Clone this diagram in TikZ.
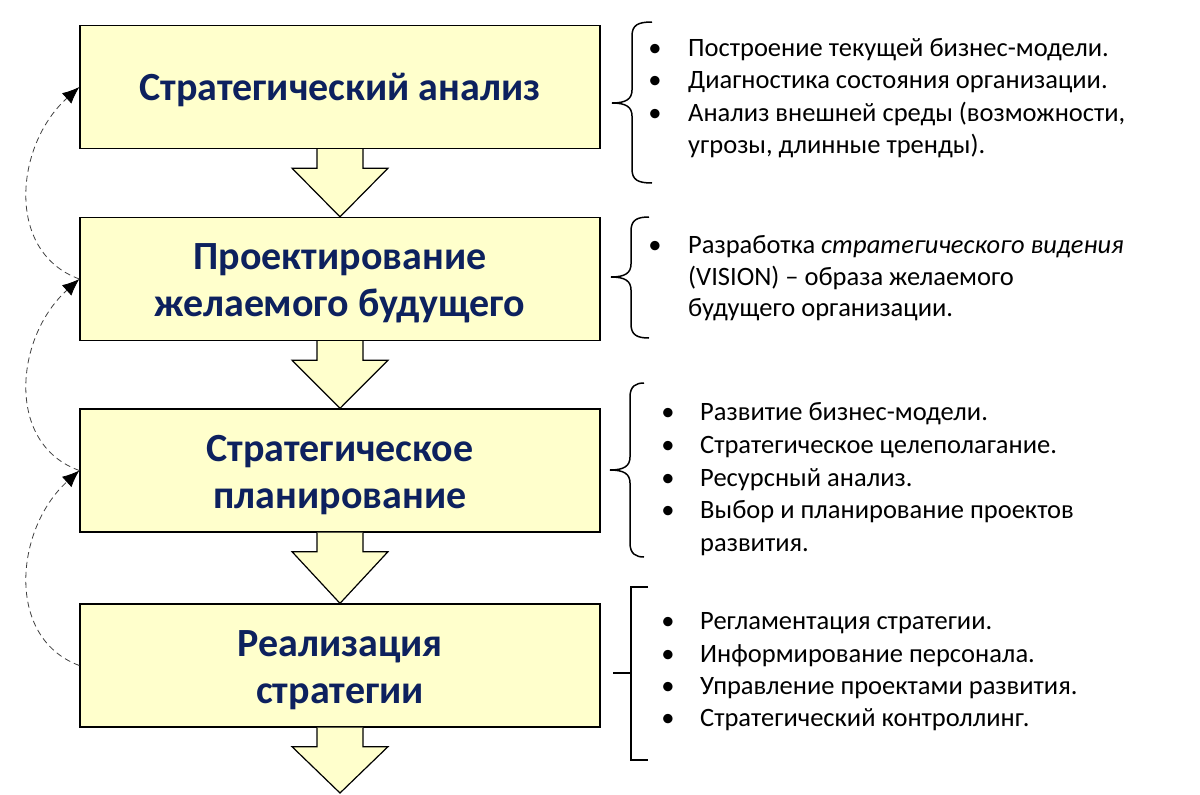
\documentclass[tikz,border=0pt]{standalone}
\usepackage{fontspec}
\setmainfont{Carlito}
\usetikzlibrary{arrows.meta,calc}
\definecolor{boxfill}{HTML}{FFFFCC}
\definecolor{titlecol}{HTML}{0D215E}
\newcommand\mybrace[5]{% x, top, tip y, bottom, hook x
  \draw[bracestyle] (#5,#2) .. controls ($(#1,#2)+(6,0)$) and ($(#1,#2)+(0,3)$) .. ($(#1,#2)+(0,14)$)
    -- ($(#1,#3)+(0,-13)$) .. controls ($(#1,#3)+(0,-4)$) and ($(#1,#3)+(-6,0)$) .. ($(#1,#3)+(-20,0)$)
    .. controls ($(#1,#3)+(-6,0)$) and ($(#1,#3)+(0,4)$) .. ($(#1,#3)+(0,13)$)
    -- ($(#1,#4)+(0,-14)$) .. controls ($(#1,#4)+(0,-3)$) and ($(#1,#4)+(6,0)$) .. (#5,#4);}
\begin{document}
\begin{tikzpicture}[x=1pt,y=-1pt,
  stage/.style={draw=black, line width=1.3pt, fill=boxfill, minimum width=520pt,
    minimum height=123pt, inner sep=0pt},
  title/.style={inner sep=0pt, align=center, text=titlecol,
    font=\fontsize{40}{47}\selectfont\bfseries},
  item/.style={anchor=base west, inner sep=0pt, font=\fontsize{26.5}{30}\selectfont},
  bul/.style={anchor=base, inner sep=0pt, font=\fontsize{26.5}{30}\selectfont},
  loopline/.style={draw=black!75, line width=0.8pt, dash pattern=on 6pt off 4pt,
    -{Latex[length=17pt,width=14pt,black]}},
  arrowedge/.style={draw=black, line width=1.2pt, line join=miter},
  bracestyle/.style={draw=black, line width=1.5pt}]
\useasboundingbox (0,0) rectangle (1200,795);
\fill[white] (0,0) rectangle (1200,795);

% stages
\node[stage] (b1) at (340,87) {};
\node[stage] (b2) at (340,279) {};
\node[stage] (b3) at (340,470.5) {};
\node[stage] (b4) at (340,665.5) {};
\node[title] (n1) at ($(b1.center)+(0,3)$) {Стратегический анализ};
\node[title] (n2) at ($(b2.center)+(0,4)$) {Проектирование\\желаемого будущего};
\node[title] (n3) at ($(b3.center)+(0,5)$) {Стратегическое\\планирование};
\node[title] (n4) at ($(b4.center)+(0,5)$) {Реализация\\стратегии};
\coordinate (end) at (340,793);

% block arrows
\foreach \a/\b in {b1/b2,b2/b3,b3/b4,b4/end}{
  \fill[boxfill] ($(\a.south)+(-23,0)$) -- ++(0,19) -- ++(-25,0) -- (\b.north) -- ($(\a.south)+(48,19)$) -- ++(-25,0) -- ++(0,-19) -- cycle;
  \draw[arrowedge] ($(\a.south)+(-23,0)$) -- ++(0,19) -- ++(-25,0) -- (\b.north) -- ($(\a.south)+(48,19)$) -- ++(-25,0) -- ++(0,-19);
}

% feedback loops
\draw[loopline] (b2.west) .. controls (5,252) and (15,145) .. (b1.west);
\draw[loopline] (b3.west) .. controls (5,444) and (15,337) .. (b2.west);
\draw[loopline] (b4.west) .. controls (5,638) and (15,529) .. (b3.west);

% braces
\mybrace{632}{22}{103}{183}{652}
\mybrace{631}{217}{277}{338}{649}
\mybrace{630}{383}{470}{557}{644}
\draw[bracestyle] (648,587) -- (631,587) -- (631,760) -- (648,760);
\draw[bracestyle] (613,673) -- (631,673);

% list 1
\node[bul] (u11) at (655,56) {•};
\node[item] (t11) at (688,56) {Построение текущей бизнес-модели.};
\node[bul] (u12) at (655,88) {•};
\node[item] (t12) at (688,88) {Диагностика состояния организации.};
\node[bul] (u13) at (655,121) {•};
\node[item] (t13) at (688,121) {Анализ внешней среды (возможности,};
\node[item] (t14) at (688,153) {угрозы, длинные тренды).};

% list 2
\node[bul] (u21) at (655,253) {•};
\node[item] (t21) at (688,253) {Разработка \textit{стратегического видения}};
\node[item] (t22) at (688,285) {(VISION) – образа желаемого};
\node[item] (t23) at (688,316) {будущего организации.};

% list 3
\node[bul] (u31) at (668,420) {•};
\node[item] (t31) at (700,420) {Развитие бизнес-модели.};
\node[bul] (u32) at (668,453) {•};
\node[item] (t32) at (700,453) {Стратегическое целеполагание.};
\node[bul] (u33) at (668,486) {•};
\node[item] (t33) at (700,486) {Ресурсный анализ.};
\node[bul] (u34) at (668,518) {•};
\node[item] (t34) at (700,518) {Выбор и планирование проектов};
\node[item] (t35) at (700,551) {развития.};

% list 4
\node[bul] (u41) at (668,629) {•};
\node[item] (t41) at (700,629) {Регламентация стратегии.};
\node[bul] (u42) at (668,662) {•};
\node[item] (t42) at (700,662) {Информирование персонала.};
\node[bul] (u43) at (668,694) {•};
\node[item] (t43) at (700,694) {Управление проектами развития.};
\node[bul] (u44) at (668,726) {•};
\node[item] (t44) at (700,726) {Стратегический контроллинг.};
\end{tikzpicture}
\end{document}
